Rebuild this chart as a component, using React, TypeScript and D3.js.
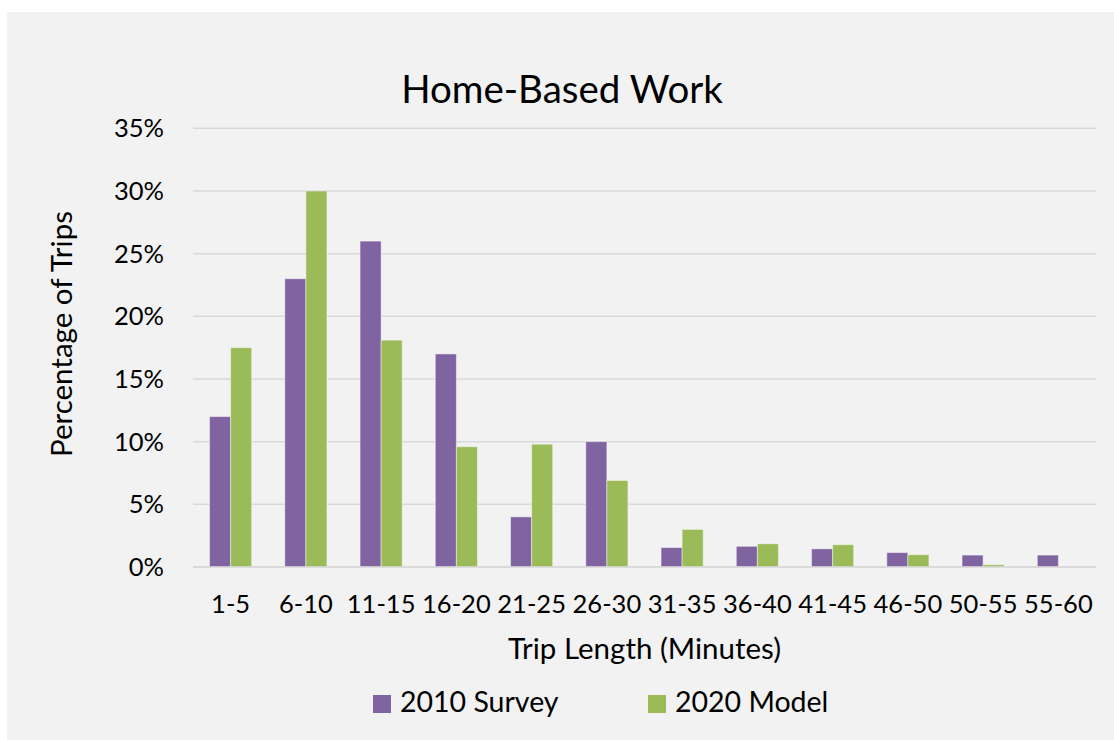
import React from 'react';
import * as d3 from 'd3';

// Trip length bins (minutes)
const categories = ['1-5', '6-10', '11-15', '16-20', '21-25', '26-30', '31-35', '36-40', '41-45', '46-50', '50-55', '55-60'];

// percent of trips
const survey2010 = [12.0, 23.0, 26.0, 17.0, 4.0, 10.0, 1.55, 1.65, 1.45, 1.15, 0.95, 0.95];
const model2020 = [17.5, 30.0, 18.1, 9.6, 9.8, 6.9, 3.0, 1.85, 1.78, 0.98, 0.18, 0];

const seriesNames = ['2010 Survey', '2020 Model'];
const seriesColors = ['#8064a2', '#9bbb59'];
const yTicks = [0, 5, 10, 15, 20, 25, 30, 35];

const W = 1114;
const H = 740;
const FONT = 'Lato, "Open Sans", sans-serif';

const App: React.FC = () => {
  const left = 193;
  const right = 1096;
  const top = 128.3;
  const bottom = 567;

  const x0 = d3.scaleBand<string>()
    .domain(categories)
    .range([left, right])
    .paddingInner(0.44)
    .paddingOuter(0.22);

  const x1 = d3.scaleBand<string>()
    .domain(seriesNames)
    .range([0, x0.bandwidth()]);

  const y = d3.scaleLinear().domain([0, 35]).range([bottom, top]);

  const rows = categories.map((c, i) => ({ cat: c, vals: [survey2010[i], model2020[i]] }));

  return (
    <svg
      width={W}
      height={H}
      style={{ position: 'absolute', left: 0, top: 0, display: 'block' }}
      fontFamily={FONT}
    >
      <rect x={0} y={0} width={W} height={H} fill="#fff" />
      <rect x={7} y={12} width={W - 7} height={H - 12} fill="#f2f2f2" />

      {/* title */}
      <text x={562} y={103} textAnchor="middle" fontSize={38.5} fill="#000">Home-Based Work</text>

      {/* grid */}
      {yTicks.map(t => (
        <line key={t} x1={left} x2={right} y1={y(t)} y2={y(t)} stroke="#d9d9d9" strokeWidth={1.5} />
      ))}

      {/* y tick labels */}
      {yTicks.map(t => (
        <text key={'yl' + t} x={164} y={y(t) + 9} textAnchor="end" fontSize={25.5} fill="#000">{t}%</text>
      ))}

      {/* bars */}
      {rows.map(r => (
        <g key={r.cat} transform={`translate(${x0(r.cat)},0)`}>
          {r.vals.map((v, j) => v > 0 && (
            <rect
              key={j}
              x={x1(seriesNames[j])}
              y={y(v)}
              width={x1.bandwidth()}
              height={bottom - y(v)}
              fill={seriesColors[j]}
              stroke="#ffffff"
              strokeOpacity={0.45}
              strokeWidth={1}
            />
          ))}
        </g>
      ))}

      {/* x axis line */}
      <line x1={left} x2={right} y1={bottom} y2={bottom} stroke="#d9d9d9" strokeWidth={1.5} />

      {/* x tick labels */}
      {categories.map(c => (
        <text key={'xl' + c} x={(x0(c) || 0) + x0.bandwidth() / 2} y={613} textAnchor="middle" fontSize={25.5} fill="#000">{c}</text>
      ))}

      {/* axis titles */}
      <text x={(left + right) / 2} y={659} textAnchor="middle" fontSize={29.5} fill="#000">Trip Length (Minutes)</text>
      <text transform="translate(72,334) rotate(-90)" textAnchor="middle" fontSize={29.5} fill="#000">Percentage of Trips</text>

      {/* legend */}
      {seriesNames.map((s, i) => {
        const lx = i === 0 ? 373 : 648;
        return (
          <g key={s}>
            <rect x={lx} y={695} width={18} height={18} fill={seriesColors[i]} />
            <text x={lx + 27} y={712} fontSize={28.5} fill="#000">{s}</text>
          </g>
        );
      })}
    </svg>
  );
};

export default App;
